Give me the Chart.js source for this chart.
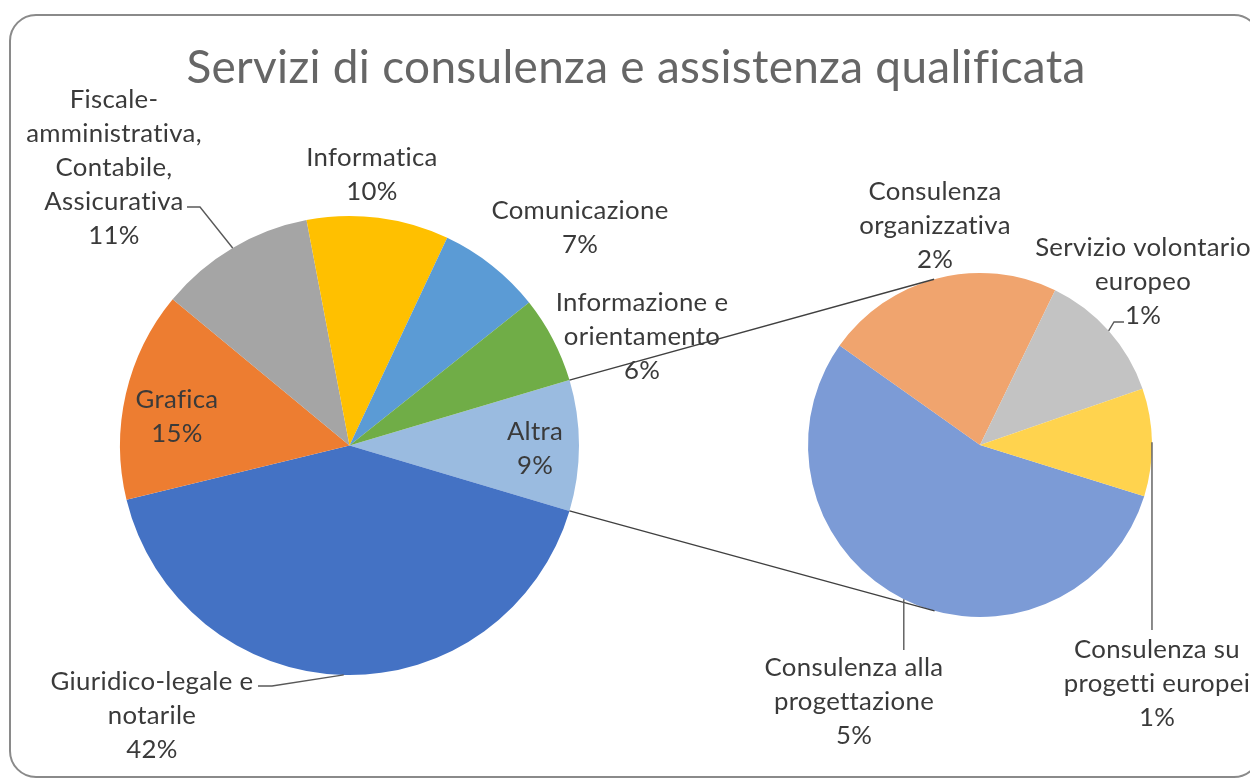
<!DOCTYPE html>
<html>
<head>
<meta charset="utf-8">
<script src="https://cdn.jsdelivr.net/npm/chart.js@4.4.0/dist/chart.umd.min.js"></script>
<style>
  html, body { margin: 0; padding: 0; background: #fff; }
  #wrap { position: relative; width: 1250px; height: 782px; overflow: hidden; }
  #wrap canvas { position: absolute; left: 0; top: 0; }
</style>
</head>
<body>
<div id="wrap">
  <canvas id="mainPie" width="1250" height="782"></canvas>
  <canvas id="subPie" width="1250" height="782"></canvas>
</div>
<script>
// main pie, clockwise starting from the "Altra" slice
const mainLabels = ['Altra', 'Giuridico-legale e notarile', 'Grafica',
    'Fiscale-amministrativa, Contabile, Assicurativa', 'Informatica',
    'Comunicazione', 'Informazione e orientamento'];
const mainValues = [9.2, 41.6, 14.8, 11.0, 10.0, 7.3, 6.1];
const mainLines = [['Altra'], ['Giuridico-legale e', 'notarile'], ['Grafica'],
    ['Fiscale-', 'amministrativa,', 'Contabile,', 'Assicurativa'], ['Informatica'],
    ['Comunicazione'], ['Informazione e', 'orientamento']];

// second pie (breakdown of "Altra")
const subLabels = ['Consulenza alla progettazione', 'Consulenza organizzativa',
    'Servizio volontario europeo', 'Consulenza su progetti europei'];
const subValues = [5.06, 2.06, 1.15, 0.93];
const subLines = [['Consulenza alla', 'progettazione'], ['Consulenza', 'organizzativa'],
    ['Servizio volontario', 'europeo'], ['Consulenza su', 'progetti europei']];

const titleText = 'Servizi di consulenza e assistenza qualificata';

const mainColors = ['#9ABBE0', '#4472C4', '#ED7D31', '#A5A5A5', '#FFC000', '#5B9BD5', '#70AD47'];
const subColors = ['#7C9BD6', '#F0A46E', '#C3C3C3', '#FFD34E'];

// label placement: centre x, middle of first line y
const mainLabelPos = [[535, 432], [152, 682], [177, 400], [114, 100], [372, 158], [580, 211], [642, 303]];
const subLabelPos = [[854, 668], [935, 192], [1143, 248], [1157, 650]];
// leader lines: extra points after the slice edge point (null = no leader)
const mainLeaders = [null, [[272, 686], [258, 686]], null, [[200, 207], [187, 207]], null, null, null];
const subLeaders = [{ down: 650 }, null, [[1114, 322], [1124, 322]], { down: 630 }];

const FONT = 'Lato, "Open Sans", sans-serif';
const LINE_H = 34;
const TEXT_COLOR = '#3a3a3a';
const SPACING = '0.3px'; // also keeps Lato from using ti/fi ligatures

function fitSize(ctx, text, target, weight) {
    ctx.save();
    ctx.letterSpacing = SPACING;
    ctx.font = `${weight} 100px ${FONT}`;
    const w = ctx.measureText(text).width;
    ctx.restore();
    return 100 * target / w;
}

let labelSize = 20;
let titleSize = 40;

function pct(values, i) {
    const total = mainValues.reduce((a, b) => a + b, 0);
    return Math.round(values[i] / total * 100) + '%';
}

function arcInfo(chart, i) {
    return chart.getDatasetMeta(0).data[i].getProps(['x', 'y', 'startAngle', 'endAngle', 'outerRadius'], true);
}

function drawLabels(chart, lines, values, positions, leaders) {
    const ctx = chart.ctx;
    ctx.save();
    // leader lines
    ctx.strokeStyle = '#595959';
    ctx.lineWidth = 1.4;
    leaders.forEach((ld, i) => {
        if (!ld) return;
        const a = arcInfo(chart, i);
        const mid = (a.startAngle + a.endAngle) / 2;
        const sx = a.x + a.outerRadius * Math.cos(mid);
        const sy = a.y + a.outerRadius * Math.sin(mid);
        ctx.beginPath();
        ctx.moveTo(sx, sy);
        if (ld.down) {
            ctx.lineTo(sx, ld.down);
        } else {
            ld.forEach(p => ctx.lineTo(p[0], p[1]));
        }
        ctx.stroke();
    });
    // texts
    ctx.fillStyle = TEXT_COLOR;
    ctx.letterSpacing = SPACING;
    ctx.font = `400 ${labelSize}px ${FONT}`;
    ctx.textAlign = 'center';
    ctx.textBaseline = 'middle';
    lines.forEach((ls, i) => {
        const all = ls.concat([pct(values, i)]);
        const [x, y] = positions[i];
        all.forEach((t, k) => ctx.fillText(t, x, y + k * LINE_H));
    });
    ctx.restore();
}

function tangentPoint(cx, cy, r, px, py, sign) {
    const dx = px - cx, dy = py - cy;
    const d = Math.hypot(dx, dy);
    const a = Math.atan2(dy, dx) + sign * Math.acos(r / d);
    return [cx + r * Math.cos(a), cy + r * Math.sin(a)];
}

const framePlugin = {
    id: 'frame',
    beforeDraw(chart) {
        const ctx = chart.ctx;
        labelSize = fitSize(ctx, 'Giuridico-legale e', 199, 400);
        titleSize = fitSize(ctx, titleText, 892, 400);
        ctx.save();
        ctx.fillStyle = '#fff';
        ctx.fillRect(0, 0, chart.width, chart.height);
        ctx.strokeStyle = '#8a8a8a';
        ctx.lineWidth = 2;
        ctx.beginPath();
        ctx.roundRect(10, 15, 1250, 762, 26);
        ctx.stroke();
        ctx.fillStyle = '#666666';
        ctx.letterSpacing = SPACING;
        ctx.font = `400 ${titleSize}px ${FONT}`;
        ctx.textAlign = 'center';
        ctx.textBaseline = 'middle';
        ctx.fillText(titleText, 636, 68);
        ctx.restore();
    },
    afterDraw(chart) {
        drawLabels(chart, mainLines, mainValues, mainLabelPos, mainLeaders);
    }
};

const subPlugin = {
    id: 'subLabels',
    afterDraw(chart) {
        const ctx = chart.ctx;
        // connector lines from the "Altra" slice to the second pie
        const a = arcInfo(mainChart, 0);
        const b = chart.getDatasetMeta(0).data[0].getProps(['x', 'y', 'outerRadius'], true);
        const p1 = [a.x + a.outerRadius * Math.cos(a.startAngle), a.y + a.outerRadius * Math.sin(a.startAngle)];
        const p2 = [a.x + a.outerRadius * Math.cos(a.endAngle), a.y + a.outerRadius * Math.sin(a.endAngle)];
        const t1 = tangentPoint(b.x, b.y, b.outerRadius, p1[0], p1[1], 1);
        const t2 = tangentPoint(b.x, b.y, b.outerRadius, p2[0], p2[1], -1);
        ctx.save();
        ctx.strokeStyle = '#404040';
        ctx.lineWidth = 1.4;
        ctx.beginPath();
        ctx.moveTo(p1[0], p1[1]);
        ctx.lineTo(t1[0], t1[1]);
        ctx.moveTo(p2[0], p2[1]);
        ctx.lineTo(t2[0], t2[1]);
        ctx.stroke();
        ctx.restore();
        drawLabels(chart, subLines, subValues, subLabelPos, subLeaders);
    }
};

const commonOptions = {
    responsive: false,
    animation: false,
    events: [],
    plugins: { legend: { display: false }, tooltip: { enabled: false }, title: { display: false } }
};

const mainChart = new Chart(document.getElementById('mainPie').getContext('2d'), {
    type: 'pie',
    data: {
        labels: mainLabels,
        datasets: [{ data: mainValues, backgroundColor: mainColors, borderWidth: 0 }]
    },
    options: Object.assign({}, commonOptions, {
        // keep the "Altra" slice centred on the right-hand horizontal
        rotation: 90 - mainValues[0] / mainValues.reduce((a, b) => a + b, 0) * 180,
        layout: { padding: { left: 120, right: 671, top: 216, bottom: 107 } }
    }),
    plugins: [framePlugin]
});

const subChart = new Chart(document.getElementById('subPie').getContext('2d'), {
    type: 'pie',
    data: {
        labels: subLabels,
        datasets: [{ data: subValues, backgroundColor: subColors, borderWidth: 0 }]
    },
    options: Object.assign({}, commonOptions, {
        rotation: 107.3,
        layout: { padding: { left: 808, right: 98, top: 273, bottom: 165 } }
    }),
    plugins: [subPlugin]
});
</script>
</body>
</html>
